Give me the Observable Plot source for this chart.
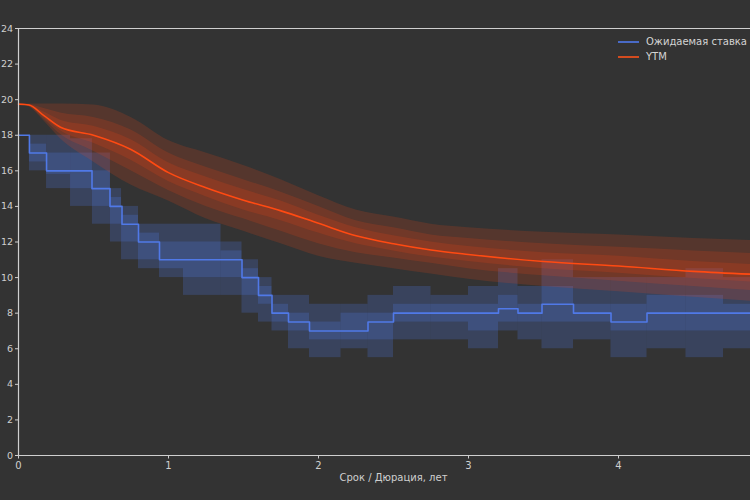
<!DOCTYPE html>
<html>
<head>
<meta charset="utf-8">
<script src="https://cdn.jsdelivr.net/npm/d3@7"></script>
<script src="https://cdn.jsdelivr.net/npm/@observablehq/plot@0.6"></script>
<style>
  html, body { margin: 0; padding: 0; background: #333333; overflow: hidden; width: 750px; height: 500px; }
  #wrap { position: relative; width: 768px; height: 500px; }
  #legend { position: absolute; left: 618px; top: 34px; font: 10px "DejaVu Sans", sans-serif; color: #d4d4d4; white-space: nowrap; }
  #legend .row { display: flex; align-items: center; height: 15px; }
  #legend .sw { width: 21px; height: 2px; margin-right: 7px; }
</style>
</head>
<body>
<div id="wrap">
  <div id="chart"></div>
  <div id="legend">
    <div class="row"><span class="sw" style="background:#4d74e0;opacity:.85"></span>Ожидаемая ставка</div>
    <div class="row"><span class="sw" style="background:#f0501c;opacity:.85"></span>YTM</div>
  </div>
</div>
<script>
// Axis ticks
const xTicks = [0, 1, 2, 3, 4];
const yTicks = [0, 2, 4, 6, 8, 10, 12, 14, 16, 18, 20, 22, 24];

// Expected key rate: step path (start of each step, years / %)
const rateT = [0, 0.073, 0.187, 0.49, 0.61, 0.69, 0.80, 0.94, 1.49, 1.60, 1.69, 1.80, 1.94, 2.33, 2.50, 3.20, 3.33, 3.49, 3.70, 3.95, 4.19, 5.0];
const rateV = [18, 17, 16, 15, 14, 13, 12, 11, 10, 9, 8, 7.5, 7, 7.5, 8, 8.25, 8, 8.5, 8, 7.5, 8, 8];

// Expected key rate: distribution boxes per period
const boxStart = [0.073, 0.187, 0.347, 0.493, 0.613, 0.687, 0.80, 0.94, 1.10, 1.35, 1.49, 1.60, 1.69, 1.80, 1.94, 2.15, 2.33, 2.50, 2.75, 3.00, 3.20, 3.33, 3.49, 3.70, 3.95, 4.19, 4.45, 4.70];
const boxEnd   = [0.187, 0.347, 0.493, 0.613, 0.687, 0.80, 0.94, 1.10, 1.35, 1.49, 1.60, 1.69, 1.80, 1.94, 2.15, 2.33, 2.50, 2.75, 3.00, 3.20, 3.33, 3.49, 3.70, 3.95, 4.19, 4.45, 4.70, 5.0];
const boxLoWide = [16, 15, 14, 13, 12, 11, 10.5, 10, 9, 9, 8, 7.5, 7, 6, 5.5, 6, 5.5, 6.5, 6.5, 6, 7, 6.5, 6, 6.5, 5.5, 6, 5.5, 6];
const boxHiWide = [18, 18, 17.8, 17, 15, 14, 13, 13, 13, 12, 11, 10, 9, 9, 8.5, 8.5, 9, 9.5, 9, 9.5, 10.5, 9.5, 11, 10, 10, 10, 10.5, 10];
const boxLoMid  = [16.5, 15.8, 15, 14, 13, 12, 11, 10.5, 10, 10, 9, 8.5, 7.5, 7, 6.5, 6.5, 6.5, 7.5, 7.5, 7, 7.5, 7.5, 7.5, 7.5, 7, 7, 7, 7];
const boxHiMid  = [17.5, 17, 17, 16, 14.5, 13.5, 12.5, 12, 12, 11.5, 10.5, 9.5, 8.5, 8, 7.5, 8, 8, 8.5, 8.5, 8.5, 9, 8.5, 9.5, 8.5, 8.5, 9, 9, 8.5];

// YTM curve by duration, with spread bands
const ytmT   = [0, 0.07, 0.17, 0.28, 0.5, 0.75, 1.0, 1.25, 1.5, 1.75, 2.0, 2.25, 2.5, 2.75, 3.0, 3.5, 4.0, 4.5, 5.0];
const ytmMid = [19.75, 19.7, 19.1, 18.45, 18.0, 17.2, 15.9, 15.05, 14.35, 13.75, 13.05, 12.35, 11.9, 11.55, 11.3, 10.9, 10.65, 10.35, 10.15];
const ytmHi1 = [19.75, 19.75, 19.75, 19.75, 19.7, 19.0, 17.7, 17.0, 16.3, 15.5, 14.6, 13.8, 13.4, 13.0, 12.8, 12.55, 12.4, 12.2, 12.05];
const ytmLo1 = [19.75, 19.6, 18.8, 17.8, 16.5, 15.2, 14.3, 13.3, 12.6, 11.9, 11.2, 10.8, 10.5, 10.2, 9.9, 9.5, 9.2, 8.9, 8.6];
const ytmHi2 = [19.75, 19.73, 19.5, 19.25, 19.0, 18.3, 17.0, 16.2, 15.5, 14.8, 14.0, 13.2, 12.8, 12.4, 12.2, 11.9, 11.7, 11.5, 11.3];
const ytmLo2 = [19.75, 19.62, 18.9, 18.05, 17.1, 16.0, 14.9, 14.0, 13.3, 12.6, 11.9, 11.4, 11.1, 10.8, 10.5, 10.1, 9.8, 9.5, 9.2];
const ytmHi3 = [19.75, 19.72, 19.3, 18.85, 18.5, 17.75, 16.45, 15.65, 14.95, 14.3, 13.5, 12.8, 12.35, 12.0, 11.75, 11.4, 11.2, 10.9, 10.7];
const ytmLo3 = [19.75, 19.66, 19.0, 18.25, 17.55, 16.6, 15.4, 14.55, 13.8, 13.2, 12.5, 11.9, 11.5, 11.15, 10.9, 10.5, 10.25, 9.95, 9.7];

const rate = rateT.map((t, i) => ({t, v: rateV[i]}));
const boxes = boxStart.map((t0, i) => ({
  t0, t1: boxEnd[i],
  lo1: boxLoWide[i], hi1: boxHiWide[i],
  lo2: boxLoMid[i], hi2: boxHiMid[i]
}));
const ytm = ytmT.map((t, i) => ({
  t, m: ytmMid[i],
  lo1: ytmLo1[i], hi1: ytmHi1[i],
  lo2: ytmLo2[i], hi2: ytmHi2[i],
  lo3: ytmLo3[i], hi3: ytmHi3[i]
}));

const BLUE = "#5079e8";
const ORANGE = "#ff4a12";
const INK = "#cfcfcf";
const curve = "monotone-x";

const chart = Plot.plot({
  width: 768,
  height: 500,
  marginLeft: 18,
  marginRight: 0,
  marginTop: 28,
  marginBottom: 45,
  style: {background: "#333333", color: INK, fontFamily: "DejaVu Sans, sans-serif", fontSize: "10px"},
  x: {domain: [0, 5]},
  y: {domain: [0, 24]},
  marks: [
    // key-rate distribution boxes
    Plot.rect(boxes, {x1: "t0", x2: "t1", y1: "lo1", y2: "hi1", fill: BLUE, fillOpacity: 0.24}),
    Plot.rect(boxes, {x1: "t0", x2: "t1", y1: "lo2", y2: "hi2", fill: BLUE, fillOpacity: 0.24}),
    // YTM spread bands
    Plot.areaY(ytm, {x: "t", y1: "lo1", y2: "hi1", fill: ORANGE, fillOpacity: 0.17, curve}),
    Plot.areaY(ytm, {x: "t", y1: "lo2", y2: "hi2", fill: ORANGE, fillOpacity: 0.17, curve}),
    Plot.areaY(ytm, {x: "t", y1: "lo3", y2: "hi3", fill: ORANGE, fillOpacity: 0.17, curve}),
    // lines
    Plot.line(rate, {x: "t", y: "v", stroke: BLUE, strokeWidth: 1.6, curve: "step-after"}),
    Plot.line(ytm, {x: "t", y: "m", stroke: ORANGE, strokeWidth: 1.6, curve}),
    // frame
    Plot.ruleY([0, 24], {stroke: INK, strokeWidth: 1.2}),
    Plot.ruleX([0], {stroke: INK, strokeWidth: 1.2}),
    Plot.axisX({ticks: xTicks, tickFormat: d => String(d), tickSize: 3.5, tickPadding: 3, label: null, stroke: INK, fill: INK}),
    Plot.axisY({ticks: yTicks, tickFormat: d => String(d), tickSize: 3, tickPadding: 2.5, fontSize: 9.5, label: null, stroke: INK, fill: INK}),
    Plot.text(["Срок / Дюрация, лет"], {frameAnchor: "bottom", dy: 25, fill: INK, fontSize: 10})
  ]
});
document.getElementById("chart").appendChild(chart);
</script>
</body>
</html>
